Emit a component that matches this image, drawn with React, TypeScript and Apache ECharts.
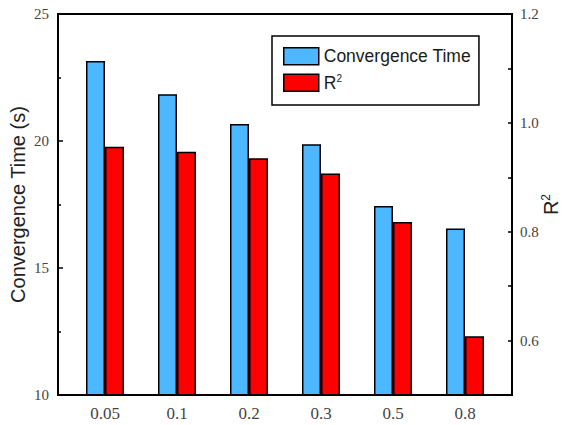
import React, { useEffect, useRef } from "react";
import * as echarts from "echarts";

const categories = ["0.05", "0.1", "0.2", "0.3", "0.5", "0.8"];
const convergenceTime = [23.15, 21.84, 20.67, 19.87, 17.44, 16.56];
const rSquared = [0.956, 0.947, 0.935, 0.907, 0.818, 0.608];
const leftTicks = [10, 15, 20, 25];
const rightTickLabels = [0.6, 0.8, 1.0, 1.2];

const W = 563;
const H = 425;
const FRAME_L = 58;
const FRAME_R = 512;
const FRAME_T = 14;
const FRAME_B = 395;
const INSET = 11;

export default function App() {
  const ref = useRef<HTMLDivElement>(null);
  useEffect(() => {
    if (!ref.current) return;
    const chart = echarts.init(ref.current, null, { renderer: "svg" });
    const serif = "'Liberation Serif', 'Times New Roman', serif";
    const sans = "'Liberation Sans', Arial, sans-serif";
    chart.setOption({
      animation: false,
      backgroundColor: "#fff",
      grid: {
        left: FRAME_L + INSET,
        right: W - FRAME_R + INSET,
        top: FRAME_T,
        bottom: H - FRAME_B,
        containLabel: false,
        outerBoundsMode: "none",
      },
      legend: {
        orient: "vertical",
        left: 272,
        top: 36,
        padding: [11, 8, 13, 11],
        itemGap: 8,
        itemWidth: 35,
        itemHeight: 17,
        borderColor: "#000",
        borderWidth: 1.5,
        icon: "rect",
        itemStyle: { borderColor: "#000", borderWidth: 1.5 },
        textStyle: {
          fontFamily: sans,
          fontSize: 17.5,
          color: "#1a1a1a",
          lineHeight: 17,
          rich: {
            n: { fontFamily: sans, fontSize: 17.5, color: "#1a1a1a" },
            s: { fontFamily: sans, fontSize: 10, color: "#1a1a1a", padding: [0, 0, 8, 0] },
          },
        },
        formatter: (name: string) => (name === "R2" ? "{n|R}{s|2}" : name),
        data: ["Convergence Time", "R2"],
      },
      xAxis: {
        type: "category",
        data: categories,
        axisLine: { show: false },
        axisTick: { show: false },
        axisLabel: { fontFamily: serif, fontSize: 17, color: "#444", margin: 10 },
        splitLine: { show: false },
      },
      yAxis: [
        {
          type: "value",
          position: "left",
          offset: INSET,
          min: leftTicks[0],
          max: leftTicks[leftTicks.length - 1],
          interval: 5,
          name: "Convergence Time (s)",
          nameLocation: "middle",
          nameRotate: 90,
          nameGap: 30,
          nameMoveOverlap: false,
          nameTextStyle: { fontFamily: sans, fontSize: 20, color: "#222" },
          axisLine: { show: true, lineStyle: { color: "#000", width: 2 } },
          axisTick: { show: true, inside: true, length: 5, lineStyle: { color: "#000", width: 1.5 } },
          minorTick: { show: true, splitNumber: 2, length: 3, lineStyle: { color: "#000", width: 1.5 } },
          axisLabel: { fontFamily: serif, fontSize: 15, color: "#444", margin: 9 },
          splitLine: { show: false },
        },
        {
          type: "value",
          position: "right",
          offset: INSET,
          min: 0.5,
          max: 1.2,
          interval: 0.1,
          name: "{n|R}{s|2}",
          nameLocation: "middle",
          nameRotate: 90,
          nameGap: 28,
          nameMoveOverlap: false,
          nameTextStyle: {
            fontFamily: sans,
            fontSize: 20,
            color: "#222",
            rich: {
              n: { fontFamily: sans, fontSize: 20, color: "#222" },
              s: { fontFamily: sans, fontSize: 12, color: "#222", padding: [0, 0, 9, 0] },
            },
          },
          axisLine: { show: true, lineStyle: { color: "#000", width: 2 } },
          axisTick: { show: true, inside: true, length: 4, lineStyle: { color: "#000", width: 1.5 } },
          axisLabel: {
            fontFamily: serif,
            fontSize: 15,
            color: "#444",
            margin: 8,
            formatter: (v: number) => {
              const r = Math.round(v * 10) / 10;
              return rightTickLabels.some((t) => Math.abs(t - r) < 1e-6) ? r.toFixed(1) : "";
            },
          },
          splitLine: { show: false },
        },
      ],
      graphic: [
        {
          type: "rect",
          silent: true,
          z: 100,
          shape: { x: FRAME_L, y: FRAME_T, width: FRAME_R - FRAME_L, height: FRAME_B - FRAME_T },
          style: { fill: "none", stroke: "#000", lineWidth: 2 },
        },
      ],
      series: [
        {
          name: "Convergence Time",
          type: "bar",
          yAxisIndex: 0,
          data: convergenceTime,
          barWidth: 19,
          barGap: "0%",
          itemStyle: { color: "#4db8ff", borderColor: "#000", borderWidth: 1.5 },
        },
        {
          name: "R2",
          type: "bar",
          yAxisIndex: 1,
          data: rSquared,
          barWidth: 19,
          barGap: "0%",
          itemStyle: { color: "#ff0000", borderColor: "#000", borderWidth: 1.5 },
        },
      ],
    });
    return () => chart.dispose();
  }, []);
  return <div ref={ref} style={{ width: W, height: H, position: "absolute", left: 0, top: 0 }} />;
}
